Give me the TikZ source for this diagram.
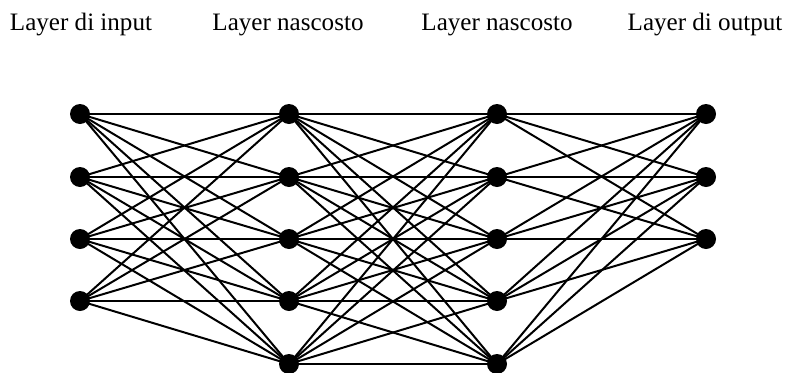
\documentclass[tikz,border=0pt]{standalone}
\usepackage{fontspec}
\setmainfont{Liberation Serif}
\begin{document}
\begin{tikzpicture}[x=0.75pt,y=-0.75pt,
  neuron/.style={circle,fill=black,inner sep=0pt,minimum size=15pt},
  conn/.style={line width=1.5pt,black},
  lbl/.style={anchor=base,font=\fontsize{18.8}{22}\selectfont,inner sep=0pt}]
\useasboundingbox (0,0) rectangle (786,372);
\node[lbl] (t1) at (81,30) {Layer di input};
\node[lbl] (t2) at (288,30) {Layer nascosto};
\node[lbl] (t3) at (497,30) {Layer nascosto};
\node[lbl] (t4) at (705,30) {Layer di output};
\foreach \i/\y in {1/114,2/177,3/239,4/301}
  \node[neuron] (a\i) at (80,\y) {};
\foreach \i/\y in {1/114,2/177,3/239,4/301,5/364}
  \node[neuron] (b\i) at (289,\y) {};
\foreach \i/\y in {1/114,2/177,3/239,4/301,5/364}
  \node[neuron] (c\i) at (497,\y) {};
\foreach \i/\y in {1/114,2/177,3/239}
  \node[neuron] (d\i) at (706,\y) {};
\begin{scope}[on background layer/.style={}]
\foreach \i in {1,...,4}
  \foreach \j in {1,...,5}
    \draw[conn] (a\i.center) -- (b\j.center);
\foreach \i in {1,...,5}
  \foreach \j in {1,...,5}
    \draw[conn] (b\i.center) -- (c\j.center);
\foreach \i in {1,...,5}
  \foreach \j in {1,...,3}
    \draw[conn] (c\i.center) -- (d\j.center);
\end{scope}
\end{tikzpicture}
\end{document}
